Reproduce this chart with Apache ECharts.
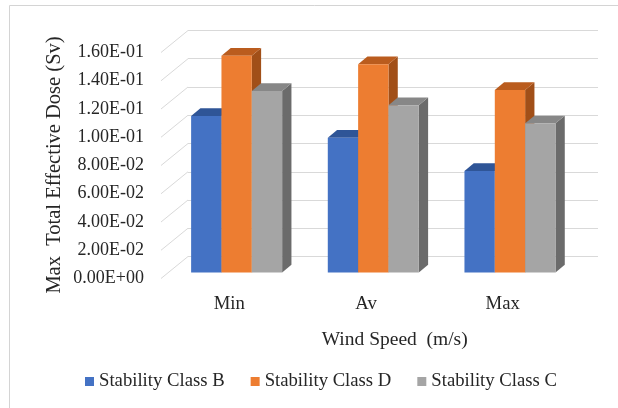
<!DOCTYPE html>
<html>
<head>
<meta charset="utf-8">
<script src="https://cdn.jsdelivr.net/npm/echarts@6/dist/echarts.min.js"></script>
<style>
  html, body { margin: 0; padding: 0; background: #ffffff; }
  #chart { width: 618px; height: 408px; }
</style>
</head>
<body>
<div id="chart"></div>
<script>
// Wind speed categories and maximum total effective dose (Sv) per stability class
const categories = ['Min', 'Av', 'Max'];
const classB = [0.1108, 0.0954, 0.0719];
const classD = [0.1535, 0.1474, 0.1292];
const classC = [0.1285, 0.1184, 0.1056];
const doseTicks = [0, 0.02, 0.04, 0.06, 0.08, 0.10, 0.12, 0.14, 0.16];

const seriesDefs = [
  { name: 'Stability Class B', data: classB, front: '#4472C4', top: '#2F5597', side: '#2A4C88' },
  { name: 'Stability Class D', data: classD, front: '#ED7D31', top: '#BA5C1E', side: '#A14F18' },
  { name: 'Stability Class C', data: classC, front: '#A5A5A5', top: '#878787', side: '#6B6B6B' }
];

// Oblique projection: three parallel planes share one value scale
const PLANE_W = 410;
const PLANE_H = 226;
const FRONT_LEFT = 161, FRONT_BASE = 278.5;     // plane carrying the tick labels
const BAR_SHIFT = [7.3, 6];                      // bar front faces, behind the front edge
const BAR_DEPTH = [9.3, 7.7];                    // extrusion of each column
const WALL_DEPTH = [27, 22];                     // back wall relative to front edge
const BAR_FRAC = 0.222;                          // column width / category band

const SERIF = 'Liberation Serif';
const FONT = "'Liberation Serif', 'Times New Roman', serif";
const TEXT = '#262626';
const GRID_LINE = '#d9d9d9';

const yMin = doseTicks[0];
const yMax = doseTicks[doseTicks.length - 1];
const yStep = doseTicks[1] - doseTicks[0];

function fmtSci(v) {
  if (v === 0) return '0.00E+00';
  let e = Math.floor(Math.log10(Math.abs(v)) + 1e-9);
  let m = v / Math.pow(10, e);
  if (Math.abs(m) >= 9.995) { m /= 10; e += 1; }
  const sign = e < 0 ? '-' : '+';
  return m.toFixed(2) + 'E' + sign + String(Math.abs(e)).padStart(2, '0');
}

function gridAt(dx, dy) {
  return {
    left: FRONT_LEFT + dx,
    top: FRONT_BASE - dy - PLANE_H,
    width: PLANE_W,
    height: PLANE_H,
    containLabel: false
  };
}

function valueAxis(gridIndex, opts) {
  return Object.assign({
    type: 'value', gridIndex: gridIndex,
    min: yMin, max: yMax, interval: yStep,
    axisLine: { show: false }, axisTick: { show: false },
    axisLabel: { show: false }, splitLine: { show: false }
  }, opts || {});
}

function catAxis(gridIndex, opts) {
  return Object.assign({
    type: 'category', gridIndex: gridIndex, data: categories,
    axisLine: { show: false }, axisTick: { show: false },
    axisLabel: { show: false }, splitLine: { show: false }
  }, opts || {});
}

function columnRenderer(slot, def) {
  return function (params, api) {
    const ci = api.value(0);
    const v = api.value(1);
    const topPt = api.coord([ci, v]);
    const basePt = api.coord([ci, 0]);
    const band = api.size([1, 0])[0];
    const w = band * BAR_FRAC;
    const x0 = topPt[0] - 1.5 * w + slot * w;
    const x1 = x0 + w;
    const yT = topPt[1], yB = basePt[1];
    const dx = BAR_DEPTH[0], dy = BAR_DEPTH[1];
    return {
      type: 'group',
      children: [
        { type: 'polygon', shape: { points: [[x1, yB], [x1 + dx, yB - dy], [x1 + dx, yT - dy], [x1, yT]] },
          style: { fill: def.side } },
        { type: 'polygon', shape: { points: [[x0, yT], [x0 + dx, yT - dy], [x1 + dx, yT - dy], [x1, yT]] },
          style: { fill: def.top } },
        { type: 'rect', shape: { x: x0, y: yT, width: w, height: yB - yT },
          style: { fill: def.front } }
      ]
    };
  };
}

// Side wall gridlines running from the label plane back to the rear wall
function sideWallRenderer(params, api) {
  const v = api.value(0);
  const p = api.coord([0, v]);
  const x = params.coordSys.x;
  return {
    type: 'line',
    shape: { x1: x, y1: p[1], x2: x + WALL_DEPTH[0], y2: p[1] - WALL_DEPTH[1] },
    style: { stroke: GRID_LINE, lineWidth: 1 }
  };
}

const chart = echarts.init(document.getElementById('chart'), null, { renderer: 'canvas' });

const series = [
  {
    type: 'custom', name: '__sidewall', xAxisIndex: 0, yAxisIndex: 0,
    renderItem: sideWallRenderer, silent: true,
    data: doseTicks.map(t => [t]), encode: { y: 0 }, z: 1
  }
].concat(seriesDefs.map((def, i) => ({
  type: 'custom', name: def.name, xAxisIndex: 1, yAxisIndex: 1,
  renderItem: columnRenderer(i, def),
  itemStyle: { color: def.front },
  data: categories.map((c, k) => [k, def.data[k]]),
  encode: { x: 0, y: 1 }, z: 3
})));

chart.setOption({
  animation: false,
  backgroundColor: '#ffffff',
  textStyle: { fontFamily: SERIF, color: TEXT },
  grid: [
    gridAt(0, 0),
    gridAt(BAR_SHIFT[0], BAR_SHIFT[1]),
    gridAt(WALL_DEPTH[0], WALL_DEPTH[1])
  ],
  xAxis: [
    catAxis(0, {
      axisLabel: { show: true, margin: 16, fontFamily: SERIF, fontSize: 18.7, color: TEXT }
    }),
    catAxis(1),
    catAxis(2)
  ],
  yAxis: [
    valueAxis(0, {
      axisLabel: { show: true, margin: 17, fontFamily: SERIF, fontSize: 18, color: TEXT, formatter: fmtSci }
    }),
    valueAxis(1),
    valueAxis(2, { splitLine: { show: true, lineStyle: { color: GRID_LINE, width: 1 } } })
  ],
  legend: {
    data: seriesDefs.map(d => d.name),
    left: 85, top: 372, padding: 0,
    icon: 'rect', itemWidth: 9, itemHeight: 9, itemGap: 26,
    formatter: name => '{t|' + name + '}',
    textStyle: {
      fontFamily: SERIF, fontSize: 18.7, color: TEXT,
      rich: { t: { fontFamily: SERIF, fontSize: 18.7, color: TEXT } }
    }
  },
  graphic: [
    { type: 'rect', shape: { x: 9.5, y: 5.5, width: 700, height: 500 },
      style: { fill: 'none', stroke: '#d4d4d4', lineWidth: 1 }, silent: true },
    { type: 'text', x: 394.7, y: 339.5,
      style: { text: 'Wind Speed  (m/s)', font: "19.5px " + FONT, fill: TEXT, align: 'center', verticalAlign: 'middle' } },
    { type: 'text', x: 55, y: 165, rotation: Math.PI / 2,
      style: { text: 'Max  Total Effective Dose (Sv)', font: "20.5px " + FONT, fill: TEXT, align: 'center', verticalAlign: 'middle' } }
  ],
  series: series
});
</script>
</body>
</html>
